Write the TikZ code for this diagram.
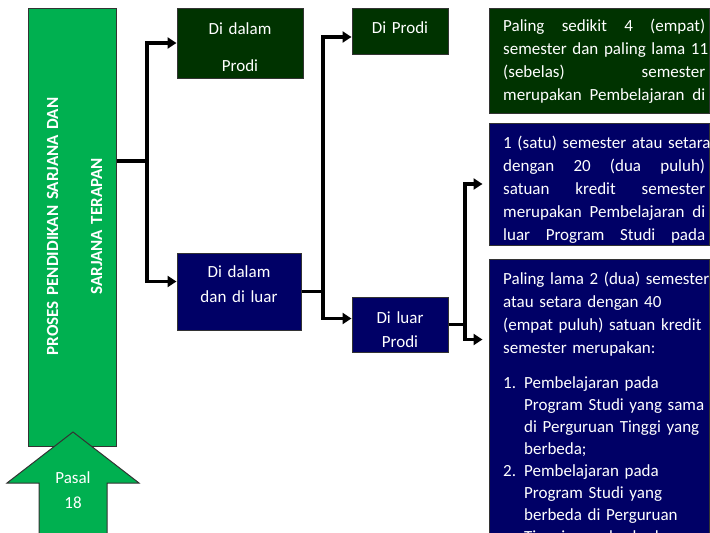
\documentclass[tikz,border=0pt]{standalone}
\usepackage{fontspec}
\setmainfont{Carlito}
\usetikzlibrary{arrows.meta}
\definecolor{gbox}{RGB}{0,176,80}
\definecolor{dkg}{RGB}{0,51,0}
\definecolor{navy}{RGB}{0,0,102}
\newcommand{\jsp}{ \hspace{0pt plus 1fill}}
\newcommand{\jline}[1]{\leavevmode\hbox to 202pt{#1}}
\begin{document}
\begin{tikzpicture}[x=1pt,y=-1pt,
  boxbase/.style={draw=black!80, line width=1pt, inner sep=0pt},
  greenbox/.style={boxbase, fill=dkg},
  navybox/.style={boxbase, fill=navy},
  lgbox/.style={boxbase, fill=gbox},
  txt/.style={text=white, inner sep=0pt, font=\fontsize{17}{23}\selectfont},
  rtxt/.style={txt, anchor=base west, text width=240pt, align=left},
  conn/.style={line width=3.2pt, line join=miter},
  arr/.style={conn, -{Triangle[length=9pt,width=11pt]}}
]
\useasboundingbox (0,0) rectangle (710,533);

% left green box
\node[lgbox, minimum width=88pt, minimum height=438pt] (g) at (72,227) {};
\node[txt, rotate=90, anchor=base, text width=320pt, align=center,
      font=\fontsize{17}{44}\selectfont\bfseries] (gt) at (58,226.5)
  {PROSES PENDIDIKAN SARJANA DAN\\SARJANA TERAPAN};

% Pasal arrow
\draw[fill=gbox, draw=black!80, line width=1pt] (73,432) -- (139,483) -- (107,483) -- (107,545)
   -- (39,545) -- (39,483) -- (7,483) -- cycle;
\node[txt, anchor=base, text width=60pt, align=center] (pasal) at (73,483) {Pasal\\[2pt]18};

% second column
\node[greenbox, minimum width=126pt, minimum height=70pt] (b1) at (240,43) {};
\node[txt, anchor=base, text width=120pt, align=center] (t1) at (240,34) {Di dalam\\[14pt]Prodi};
\node[navybox, minimum width=124pt, minimum height=77pt] (b2) at (239,291.5) {};
\node[txt, anchor=base, text width=120pt, align=center] (t2) at (239,277) {Di dalam\\[2pt]dan di luar};

% third column
\node[greenbox, minimum width=96pt, minimum height=46pt] (b3) at (400,31) {};
\node[txt, anchor=base, text width=94pt, align=center] (t3) at (400,33) {Di Prodi};
\node[navybox, minimum width=96pt, minimum height=55pt] (b4) at (400,324.5) {};
\begin{scope}
  \clip ([xshift=1pt,yshift=-1pt]b4.north west) rectangle ([xshift=-1pt,yshift=5pt]b4.south east);
  \node[txt, anchor=base, text width=94pt, align=center] (t4) at (400,323) {Di luar\\[1pt]Prodi};
\end{scope}

% right column
\node[greenbox, minimum width=220pt, minimum height=105pt] (r1) at (599,60.5) {};
\begin{scope}[every node/.append style={font=\fontsize{16.3}{23}\selectfont}]
  \clip (r1.north west) rectangle (r1.south east);
  \node[rtxt] (r1t) at (503,31)
  {\jline{Paling\jsp sedikit\jsp 4\jsp (empat)}\\
   \jline{semester\jsp dan\jsp paling\jsp lama\jsp 11}\\
   \jline{(sebelas)\jsp semester}\\
   \jline{merupakan\jsp Pembelajaran\jsp di}};
\end{scope}

\node[navybox, minimum width=220pt, minimum height=122pt] (r2) at (599,184) {};
\begin{scope}[every node/.append style={font=\fontsize{16.3}{22.8}\selectfont}]
  \clip (r2.north west) rectangle (r2.south east);
  \node[rtxt] (r2t) at (503,148)
  {\jline{1\jsp (satu)\jsp semester\jsp atau\jsp setara}\\
   \jline{dengan\jsp 20\jsp (dua\jsp puluh)}\\
   \jline{satuan\jsp kredit\jsp semester}\\
   \jline{merupakan\jsp Pembelajaran\jsp di}\\
   \jline{luar\jsp Program\jsp Studi\jsp pada}};
\end{scope}

\node[navybox, minimum width=220pt, minimum height=290pt] (r3) at (599,404) {};
\begin{scope}[every node/.append style={font=\fontsize{16.3}{23}\selectfont}]
  \clip (r3.north west) rectangle (r3.south east);
  \node[rtxt] (r3t) at (503,284)
  {Paling lama 2 (dua) semester\\
   atau setara dengan 40\\
   (empat puluh) satuan kredit\\
   semester merupakan:\\[12.5pt]
   \makebox[21pt][l]{1.}Pembelajaran pada\\[-1pt]
   \hspace*{21pt}Program Studi yang sama\\[-1pt]
   \hspace*{21pt}di Perguruan Tinggi yang\\[-1pt]
   \hspace*{21pt}berbeda;\\[-1pt]
   \makebox[21pt][l]{2.}Pembelajaran pada\\[-1pt]
   \hspace*{21pt}Program Studi yang\\[-1pt]
   \hspace*{21pt}berbeda di Perguruan\\[-1pt]
   \hspace*{21pt}Tinggi yang berbeda;};
\end{scope}

% connectors
\coordinate (j1) at (147,161);
\draw[conn] (g.east |- j1) -- (j1);
\draw[arr] (j1) |- (b1.west);
\draw[arr] (j1) |- ([yshift=10pt]b2.west);

\coordinate (j2) at (323,291.5);
\draw[conn] (b2.east) -- (j2);
\draw[arr] (j2) |- ([yshift=-6pt]b3.west);
\draw[arr] (j2) |- ([yshift=6pt]b4.west);

\coordinate (j3) at (465,324.5);
\draw[conn] (b4.east) -- (j3);
\draw[arr, shorten >=6pt] (j3) |- (r2.west);
\draw[arr, shorten >=6pt] (j3) |- ([yshift=-81pt]r3.north west);
\end{tikzpicture}
\end{document}
